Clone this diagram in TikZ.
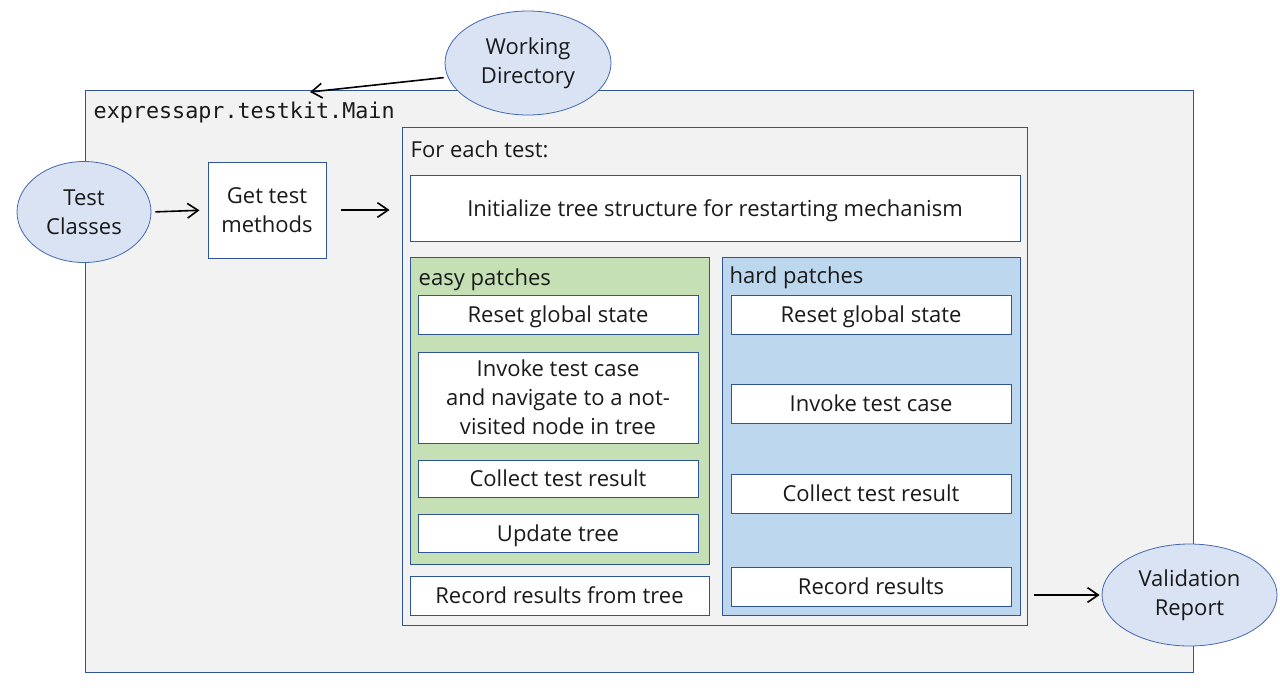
\documentclass[tikz,border=0pt]{standalone}
\usepackage{fontspec}
\setmainfont{Open Sans}
\setmonofont{DejaVu Sans Mono}
\usetikzlibrary{arrows.meta,shapes.geometric}
\definecolor{frameblue}{RGB}{47,85,151}
\definecolor{ovalline}{RGB}{68,104,176}
\definecolor{ovalfill}{RGB}{218,227,243}
\definecolor{panelgray}{RGB}{242,242,242}
\definecolor{easygreen}{RGB}{197,224,180}
\definecolor{hardblue}{RGB}{189,215,238}
\definecolor{inkgray}{RGB}{26,26,26}
\begin{document}
\begin{tikzpicture}[x=0.75pt,y=0.75pt,yscale=-1,xscale=1,
  every node/.style={text=inkgray,font=\fontsize{16.5}{21.75}\selectfont},
  panel/.style={draw=frameblue,line width=0.75pt,inner sep=0pt},
  stepbox/.style={panel,fill=white,align=center,text depth=0.5pt},
  oval/.style={ellipse,draw=ovalline,line width=0.6pt,fill=ovalfill,align=center,inner sep=0pt},
  flow/.style={line width=1.2pt,-{Straight Barb[length=8pt,width=11pt,line width=1.2pt]}}]
\useasboundingbox (0,0) rectangle (1280,687);
% Shape: Rectangle (main class)
\node[panel,fill=panelgray,minimum width=831pt,minimum height=436.5pt] (main) at (639,381) {};
\node[anchor=west,font=\fontsize{16.3}{20}\ttfamily] (mainlbl) at (89,112) {expressapr.testkit.Main};
% Shape: Rectangle (loop over tests)
\node[panel,fill=panelgray,minimum width=468.75pt,minimum height=373.5pt] (fe) at (714.5,376) {};
\node[anchor=west] (felbl) at (406,149) {For each test:};
% Shape: Rectangle
\node[stepbox,minimum width=88.5pt,minimum height=72pt] (get) at (267,210) {Get test\\methods};
\node[stepbox,minimum width=457.5pt,minimum height=49.5pt] (init) at (715,208) {Initialize tree structure for restarting mechanism};
% easy patches
\node[panel,fill=easygreen,minimum width=224.25pt,minimum height=230.25pt] (easy) at (559.5,410.5) {};
\node[anchor=west] (easylbl) at (414,280) {easy patches};
\node[stepbox,minimum width=210pt,minimum height=29.25pt] (ereset) at (558,314.5) {Reset global state};
\node[stepbox,minimum width=210pt,minimum height=68.25pt] (einvoke) at (558,397.5) {Invoke test case\\and navigate to a not-\\visited node in tree};
\node[stepbox,minimum width=210pt,minimum height=27.75pt] (ecollect) at (558,478.5) {Collect test result};
\node[stepbox,minimum width=210pt,minimum height=28.5pt] (eupdate) at (558,533) {Update tree};
\node[stepbox,minimum width=224.25pt,minimum height=29.25pt] (erecord) at (559.5,595.5) {Record results from tree};
% hard patches
\node[panel,fill=hardblue,minimum width=223.5pt,minimum height=268.5pt] (hard) at (871,436) {};
\node[anchor=west] (hardlbl) at (725,278) {hard patches};
\node[stepbox,minimum width=210pt,minimum height=29.25pt] (hreset) at (871,314.5) {Reset global state};
\node[stepbox,minimum width=210pt,minimum height=29.25pt] (hinvoke) at (871,403.5) {Invoke test case};
\node[stepbox,minimum width=210pt,minimum height=29.25pt] (hcollect) at (871,493.5) {Collect test result};
\node[stepbox,minimum width=210pt,minimum height=29.25pt] (hrecord) at (871,586.5) {Record results};
% Shape: Ellipse
\node[oval,minimum width=124.5pt,minimum height=78pt] (wd) at (528,63) {Working\\Directory};
\node[oval,minimum width=100.5pt,minimum height=75.75pt] (tc) at (84,212) {Test\\Classes};
\node[oval,minimum width=131.25pt,minimum height=76.5pt] (vr) at (1189.5,595) {Validation\\Report};
% Straight Lines
\coordinate (mainin) at (310,92);
\draw[flow,shorten <=3pt] (wd.190) -- (mainin);
\draw[flow,shorten <=3pt,shorten >=6pt] (tc.east) -- (get.west);
\draw[flow,shorten <=10.5pt,shorten >=9pt] (get.east) -- (get.east -| fe.west);
\draw[flow,shorten <=4.5pt,shorten >=1.5pt] (vr.west -| fe.east) -- (vr.west);
\end{tikzpicture}
\end{document}
